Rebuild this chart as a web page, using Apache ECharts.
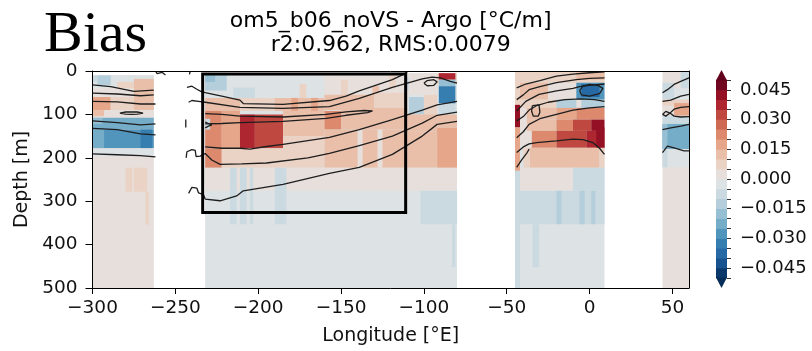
<!DOCTYPE html>
<html><head><meta charset="utf-8">
<script src="https://cdn.jsdelivr.net/npm/echarts@6/dist/echarts.min.js"></script>
<style>html,body{margin:0;padding:0;background:#fff}#c{width:812px;height:351px}</style>
</head><body><div id="c"></div>
<script>
// ---------------- data ----------------
const lonTicks = [-300, -250, -200, -150, -100, -50, 0, 50];
const depthTicks = [0, 100, 200, 300, 400, 500];
const cbarLevels = [-0.05,-0.045,-0.04,-0.035,-0.03,-0.025,-0.02,-0.015,-0.01,-0.005,0,0.005,0.01,0.015,0.02,0.025,0.03,0.035,0.04,0.045,0.05];
const cbarLabels = [-0.045, -0.03, -0.015, 0, 0.015, 0.03, 0.045];
const titleLines = ['om5_b06_noVS - Argo [°C/m]', 'r2:0.962, RMS:0.0079'];

// bias cells: [lonStart, lonEnd, depthTop, depthBottom, value]
const patchesA = [
  [-300,-263,10,500,0.002],[-300,-263,10,40,-0.003],[-300,-297,10,25,-0.007],[-297,-289,10,32,-0.012],
  [-285,-275,25,55,0.007],[-275,-263,18,60,0.012],[-300,-275,40,60,0.002],
  [-300,-289,60,90,0.017],[-289,-275,60,90,0.008],[-275,-263,60,90,0.014],
  [-300,-263,90,108,0.002],[-300,-293,90,104,0.012],
  [-300,-263,108,135,-0.022],[-300,-294,108,122,-0.017],
  [-300,-263,135,178,-0.027],[-271,-264,135,178,-0.032],[-300,-293,135,178,-0.022],
  [-300,-263,178,196,-0.002],
  [-280,-276,223,278,0.008],[-275,-267,223,278,0.008],[-268,-266,278,354,0.007]
];
const patchesB = [
  [-232,-80,5,500,-0.002],[-232,-160,5,62,-0.001],[-160,-92,5,55,0.002],
  [-232,-219,8,45,-0.012],[-232,-226,8,25,-0.017],[-215,-202,38,62,-0.008],
  [-175,-171,30,62,0.007],[-150,-146,20,55,0.007],[-131,-127,35,60,0.012],[-121,-117,10,40,0.007],[-112,-109,15,45,-0.008],
  [-232,-211,62,92,0.012],[-211,-190,62,92,0.007],[-190,-160,62,92,0.012],[-180,-176,62,92,0.017],[-168,-164,62,92,0.017],
  [-160,-130,55,90,0.012],[-130,-110,50,85,0.007],[-109,-100,60,100,-0.012],[-100,-92,55,100,0.007],
  [-232,-222,92,178,0.022],[-222,-211,92,178,0.017],[-211,-202,100,178,0.037],[-202,-185,100,178,0.032],
  [-185,-160,92,150,0.012],[-160,-150,92,135,0.022],[-150,-110,85,135,0.012],[-110,-92,100,140,0.012],
  [-232,-229,110,135,-0.008],
  [-232,-222,178,223,0.022],[-222,-160,178,223,0.006],[-160,-110,135,223,0.012],[-140,-137,135,223,0.004],[-128,-125,135,223,0.004],
  [-110,-92,140,223,0.012],[-92,-80,130,223,0.017],[-185,-160,150,178,0.007],
  [-232,-80,223,276,0.002],
  [-217,-213,223,353,-0.008],[-211,-207,223,353,-0.008],[-205,-203,223,353,-0.007],[-190,-183,223,353,-0.008],
  [-102,-80,276,353,-0.008],[-83,-81,353,452,-0.007],
  [-92,-80,5,30,0.007],[-91,-81,5,20,0.037],[-91,-81,20,35,-0.017],[-91,-81,35,75,-0.032],[-91,-81,75,100,-0.008],[-92,-80,100,130,0.012]
];
const patchesC = [
  [-45,9,0,500,-0.002],[-42,9,0,27,0.006],[-20,-8,0,27,0.007],[-8,9,0,20,0.012],
  [-42,-25,27,66,0.012],[-25,-8,27,66,0.002],[-8,9,27,66,-0.027],[-5,6,30,60,-0.037],
  [-42,-20,66,85,0.007],[-20,9,66,85,-0.012],[-8,-5,66,85,0.002],
  [-38,-20,85,112,0.012],[-20,-8,85,112,0.017],[-8,9,85,112,0.022],
  [-38,-20,112,138,0.012],[-20,-10,112,138,0.022],[-10,1,112,138,0.032],[1,9,112,138,0.042],
  [-35,-20,138,177,0.022],[-20,-2,138,177,0.032],[-2,9,138,177,0.037],[4,9,130,177,0.042],
  [-42,-38,85,177,0.004],[-38,-35,138,177,0.004],
  [-40,-36,177,223,0.007],[-36,6,177,223,0.012],[6,9,177,223,0.007],
  [-42,-10,223,276,0.001],[-10,9,223,276,-0.008],
  [-42,9,276,353,-0.008],[-20,-17,276,353,-0.012],[-6,-3,276,353,-0.012],[1,3.5,276,353,-0.012],
  [-34.5,-30.5,353,452,-0.007],
  [-45,-42,0,78,0.007],[-45,-42,78,130,0.042],[-45,-42,130,230,0.017],[-45,-42,230,500,-0.007]
];
const patchesD = [
  [44,60,0,500,0.002],[55,60,0,40,-0.008],[44,51,27,66,-0.008],[51,60,40,66,-0.003],
  [44,60,66,80,0.007],[44,51,80,103,0.004],[51,60,74,103,0.017],
  [44,60,103,122,-0.007],[44,60,122,180,-0.022],[44,47,122,180,-0.017],
  [44,60,180,222,-0.003],[44,47,180,222,-0.008]
];

// contour lines: [lon, depth]
const contoursA = [
  [[-300,32],[-289,36],[-275,47],[-263,44]],
  [[-300,51],[-285,53],[-271,57],[-263,55]],
  [[-300,70],[-285,71],[-271,76],[-262,76]],
  [[-283.5,97],[-280,94.5],[-276.5,94],[-273,94.5],[-269.5,97],[-273,99.5],[-276.5,100],[-280,99.5],[-283.5,97]],
  [[-300,115],[-285,119],[-271,124],[-262,122]],
  [[-300,132],[-285,135],[-271,145],[-262,147]],
  [[-300,191],[-285,193],[-271,195],[-262,198]]
];
const contoursB = [
  [[-262,0],[-261,6],[-258,3],[-256,9]],
  [[-241,0],[-241.5,8]],
  [[-243.7,112],[-243.7,130]],
  [[-243,38],[-240,35],[-237,42],[-234,48],[-232,50],[-222,58],[-211,67],[-209,75],[-185,77],[-157,68],[-147,58],[-139,46],[-119,20],[-113,9],[-110,2]],
  [[-242,72],[-240,68],[-236,70],[-232,72],[-211,84],[-185,86],[-157,82],[-139,63],[-119,38],[-101,18],[-95,14],[-90,16],[-84,24],[-80,28]],
  [[-232,98],[-222,100],[-211,104],[-185,106],[-159,100],[-147,94],[-136,91],[-131,92],[-134,96],[-147,102],[-159,109],[-185,116],[-211,119],[-222,121],[-232,122]],
  [[-232,118],[-230,121],[-228,124],[-230,127],[-232,131]],
  [[-232,175],[-222,178],[-211,178],[-205,180],[-195,174],[-185,169],[-157,153],[-139,135],[-119,112],[-101,90],[-92,78],[-80,70]],
  [[-243.5,200],[-243,186],[-240,181],[-238,183],[-237.5,197],[-235,196],[-232,190],[-228,205],[-223,215],[-210,214],[-195,212],[-170,200],[-157,190],[-139,172],[-119,150],[-101,120],[-92,102],[-80,95]],
  [[-242,282],[-240,268],[-237,270],[-236,281],[-233,285],[-232,295],[-223,299],[-213,288],[-209,276],[-185,261],[-157,236],[-139,222],[-119,192],[-101,150],[-92,123],[-80,116]],
  [[-100,28],[-98,22],[-94,20],[-92,25],[-94,33],[-98,34],[-100,28]]
];
const contoursC = [
  [[-44,39],[-38.5,30],[-30,22],[-20,12],[-10,7],[0,4],[9,2]],
  [[-44,66],[-40,55],[-36.5,43],[-30,36],[-20,27],[-8,20],[0,17],[9,16]],
  [[-44,92],[-38.5,70],[-30.5,54],[-20,46],[-10,40],[-6,36],[0,33],[9,30]],
  [[-6,45],[-4,35],[0,31],[5,33],[8,40],[6,52],[0,58],[-5,55],[-6,45]],
  [[-44,115],[-40,105],[-36.5,90],[-32,80],[-25,72],[-15,66],[-5,64],[3,66],[9,70]],
  [[-34.5,80],[-30.5,78],[-30,95],[-31,104],[-34,104],[-35,92],[-34.5,80]],
  [[-44,154],[-40,140],[-36.5,123],[-30,110],[-20,100],[-10,90],[0,85],[9,82]],
  [[-44,188],[-40,175],[-36.5,168],[-32,165],[-20,161],[-10,157],[-4,158],[2,165],[6,178],[9,192]],
  [[-44,222],[-41,205],[-38,190],[-36.5,180]]
];
const contoursD = [
  [[44,50],[47,43],[51,31],[55,24],[60,16]],
  [[44,70],[49,67],[55,58],[60,54]],
  [[44,100],[46,93],[48.5,97],[46,104],[44,100]],
  [[48.5,97],[51,88],[55,84],[60,82]],
  [[48.5,97],[51,104],[55,106],[60,105]],
  [[44,135],[49,131],[55,127],[60,123]],
  [[44,188],[47,173],[51,177],[57,184],[60,184]]
];
const boxRegion = [[-233.5, -111, 7, 326]];

// ---------------- colour map (RdBu_r) ----------------
const rdbu = ['#053061','#2166ac','#4393c3','#92c5de','#d1e5f0','#f7f7f7','#fddbc7','#f4a582','#d6604d','#b2182b','#67001f'];
function hex(h){return [parseInt(h.slice(1,3),16),parseInt(h.slice(3,5),16),parseInt(h.slice(5,7),16)];}
function cmap(t){
  t = Math.max(0, Math.min(1, t));
  const s = t * 10; const i = Math.min(9, Math.floor(s)); const f = s - i;
  const a = hex(rdbu[i]), b = hex(rdbu[i+1]);
  const c = a.map((v,k) => Math.round((v + (b[k]-v)*f) * 0.93));
  return 'rgb(' + c.join(',') + ')';
}
function levelColor(v){
  const i = Math.floor((v + 0.05) / 0.005 + 1e-9);
  if (i < 0) return cmap(0);
  if (i > 19) return cmap(1);
  return cmap((i + 0.5) / 20);
}
const minus = v => (v < 0 ? '\u2212' : '') + Math.abs(v);
const FONT = 'DejaVu Sans';

function patchSeries(patches){
  return {
    type: 'custom', xAxisIndex: 0, yAxisIndex: 0, clip: true, silent: true, z: 2,
    data: patches,
    renderItem(params, api){
      const p0 = api.coord([api.value(0), api.value(2)]);
      const p1 = api.coord([api.value(1), api.value(3)]);
      return { type: 'rect',
        shape: { x: Math.min(p0[0],p1[0]), y: Math.min(p0[1],p1[1]), width: Math.abs(p1[0]-p0[0]), height: Math.abs(p1[1]-p0[1]) },
        style: { fill: levelColor(api.value(4)) } };
    }
  };
}
function contourSeries(lines){
  return lines.map(pts => ({ type: 'line', xAxisIndex: 0, yAxisIndex: 0, data: pts, symbol: 'none', showSymbol: false,
    silent: true, clip: true, z: 4, lineStyle: { color: '#1e1e1e', width: 1.3 } }));
}

const cbarData = cbarLevels.slice(0, -1).map((v, i) => [v, cbarLevels[i+1]]);

const option = {
  animation: false,
  backgroundColor: '#fff',
  title: { text: titleLines.join('\n'), left: 390.7, top: 9, textAlign: 'center', padding: 0,
    textStyle: { fontFamily: FONT, fontSize: 22, fontWeight: 'normal', color: '#000', lineHeight: 24 } },
  graphic: [{ type: 'text', x: 44, y: 36, silent: true,
    style: { text: 'Bias', fontFamily: 'Liberation Serif', fontSize: 58, fill: '#000', verticalAlign: 'middle', align: 'left' } }],
  grid: [
    { left: 92.5, top: 71, width: 596.5, height: 218 },
    { left: 716, top: 80, width: 11, height: 198 }
  ],
  xAxis: [
    { type: 'value', gridIndex: 0, min: -300, max: 60, interval: 50, z: 10,
      axisLine: { onZero: false, lineStyle: { color: '#000', width: 1 } },
      axisTick: { length: 6, customValues: lonTicks, lineStyle: { color: '#000' } },
      axisLabel: { customValues: lonTicks, formatter: minus, fontFamily: FONT, fontSize: 18.5, color: '#111', margin: 11 },
      splitLine: { show: false },
      name: 'Longitude [°E]', nameLocation: 'middle', nameGap: 39,
      nameTextStyle: { fontFamily: FONT, fontSize: 19, color: '#111' } },
    { type: 'value', gridIndex: 1, min: 0, max: 1, show: false },
    { type: 'value', gridIndex: 0, min: -300, max: 60, position: 'top', z: 10,
      axisLine: { show: true, onZero: false, lineStyle: { color: '#000', width: 1 } }, axisTick: { show: false }, axisLabel: { show: false }, splitLine: { show: false } }
  ],
  yAxis: [
    { type: 'value', gridIndex: 0, min: 0, max: 500, interval: 100, inverse: true, z: 10,
      axisLine: { show: true, onZero: false, lineStyle: { color: '#000', width: 1 } },
      axisTick: { show: true, length: 7, customValues: depthTicks, lineStyle: { color: '#000' } },
      axisLabel: { customValues: depthTicks, fontFamily: FONT, fontSize: 18.5, color: '#111', margin: 15 },
      splitLine: { show: false },
      name: 'Depth [m]', nameLocation: 'middle', nameGap: 60, nameRotate: 90,
      nameTextStyle: { fontFamily: FONT, fontSize: 19, color: '#111' } },
    { type: 'value', gridIndex: 1, min: -0.05, max: 0.05, position: 'right', z: 10,
      axisLine: { show: false, onZero: false },
      axisTick: { show: true, length: 4, customValues: cbarLevels, lineStyle: { color: '#333' } },
      axisLabel: { customValues: cbarLabels, formatter: v => (v < 0 ? '\u2212' : '') + Math.abs(v).toFixed(3),
        fontFamily: FONT, fontSize: 18, color: '#111', margin: 13 },
      splitLine: { show: false } },
    { type: 'value', gridIndex: 0, min: 0, max: 500, inverse: true, position: 'right', z: 10,
      axisLine: { show: true, onZero: false, lineStyle: { color: '#000', width: 1 } }, axisTick: { show: false }, axisLabel: { show: false }, splitLine: { show: false } }
  ],
  series: [
    patchSeries(patchesA), patchSeries(patchesB), patchSeries(patchesC), patchSeries(patchesD),
    ...contourSeries(contoursA), ...contourSeries(contoursB), ...contourSeries(contoursC), ...contourSeries(contoursD),
    { type: 'custom', xAxisIndex: 0, yAxisIndex: 0, clip: false, silent: true, z: 6, data: boxRegion,
      renderItem(params, api){
        const p0 = api.coord([api.value(0), api.value(2)]);
        const p1 = api.coord([api.value(1), api.value(3)]);
        return { type: 'rect', shape: { x: p0[0], y: p0[1], width: p1[0]-p0[0], height: p1[1]-p0[1] },
          style: { fill: 'none', stroke: '#000', lineWidth: 3 } };
      } },
    { type: 'custom', xAxisIndex: 1, yAxisIndex: 1, clip: false, silent: true, z: 2, data: cbarData,
      renderItem(params, api){
        const v0 = api.value(0), v1 = api.value(1);
        const p0 = api.coord([0, v1]), p1 = api.coord([1, v0]);
        return { type: 'rect', shape: { x: p0[0], y: p0[1] - 0.3, width: p1[0]-p0[0], height: p1[1]-p0[1] + 0.6 },
          style: { fill: levelColor((v0 + v1) / 2) } };
      } },
    { type: 'custom', xAxisIndex: 1, yAxisIndex: 1, clip: false, silent: true, z: 2,
      data: [[cbarLevels[cbarLevels.length-1], 1], [cbarLevels[0], -1]],
      renderItem(params, api){
        const v = api.value(0), dir = api.value(1);
        const a = api.coord([0, v]), b = api.coord([1, v]);
        const tip = [(a[0]+b[0])/2, a[1] - dir * 10];
        return { type: 'polygon', shape: { points: [[a[0], a[1] + dir*0.5], [b[0], b[1] + dir*0.5], tip] },
          style: { fill: dir > 0 ? cmap(1) : cmap(0) } };
      } }
  ]
};
const chart = echarts.init(document.getElementById('c'), null, { renderer: 'canvas' });
chart.setOption(option);
</script></body></html>
